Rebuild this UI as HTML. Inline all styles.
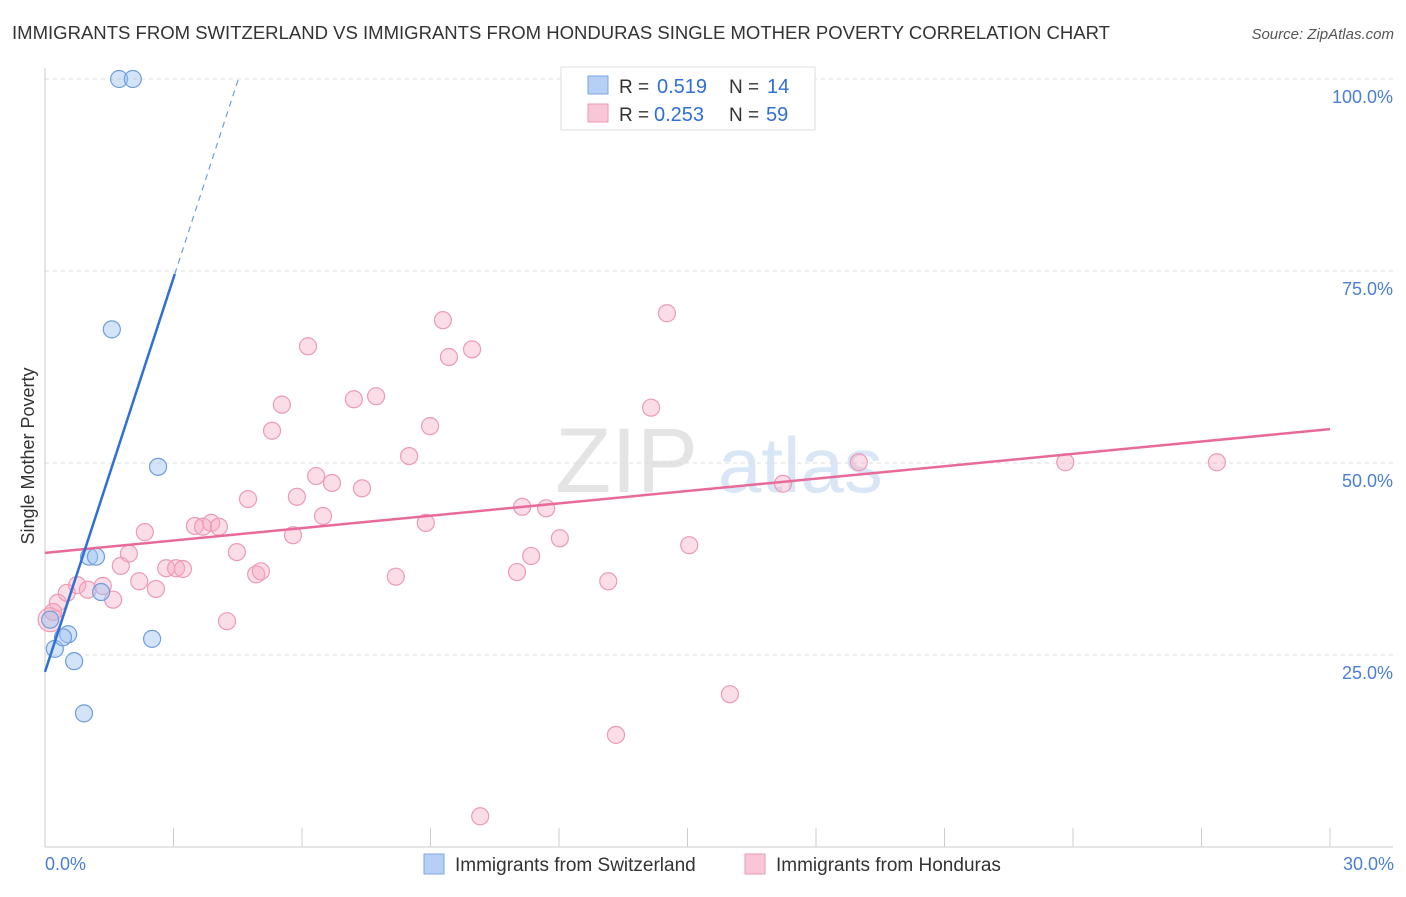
<!DOCTYPE html>
<html><head><meta charset="utf-8"><style>
body{margin:0;background:#fff;font-family:"Liberation Sans",sans-serif;}
svg text{font-family:"Liberation Sans",sans-serif;}
</style></head><body>
<svg id="chart" width="1406" height="892" xmlns="http://www.w3.org/2000/svg">
<text x="12" y="39" font-size="18" fill="#333" textLength="1098" lengthAdjust="spacingAndGlyphs">IMMIGRANTS FROM SWITZERLAND VS IMMIGRANTS FROM HONDURAS SINGLE MOTHER POVERTY CORRELATION CHART</text>
<text x="1394" y="39" font-size="15" fill="#555" text-anchor="end" font-style="italic">Source: ZipAtlas.com</text>
<text x="555" y="492" font-size="92" fill="#e4e4e4" font-family="Liberation Serif">ZIP</text>
<text x="718" y="492" font-size="78" fill="#d8e6f6">atlas</text>
<g id="grid"></g><g id="axes"></g><g id="marks"></g>
<text transform="translate(34,456) rotate(-90)" font-size="18" fill="#333" text-anchor="middle">Single Mother Poverty</text>
<text x="45" y="870" font-size="18" fill="#4a7fd4">0.0%</text>
<text x="1394" y="870" font-size="18" fill="#4a7fd4" text-anchor="end">30.0%</text>
<g>
<rect x="561" y="67" width="254" height="63" fill="#fff" stroke="#ddd"/>
<rect x="588" y="76" width="20" height="18" fill="#b6d0f5" stroke="#7aa6e0"/>
<rect x="588" y="104" width="20" height="18" fill="#f8c6d6" stroke="#ee9ab5"/>
<text x="619" y="93" font-size="19" fill="#333">R =</text>
<text x="657" y="93" font-size="20" fill="#2f6fd6">0.519</text>
<text x="729" y="93" font-size="19" fill="#333">N =</text>
<text x="767" y="93" font-size="20" fill="#2f6fd6">14</text>
<text x="619" y="121" font-size="19" fill="#333">R =</text>
<text x="654" y="121" font-size="20" fill="#2f6fd6">0.253</text>
<text x="729" y="121" font-size="19" fill="#333">N =</text>
<text x="766" y="121" font-size="20" fill="#2f6fd6">59</text>
</g>
<g>
<rect x="424" y="854" width="20" height="20" fill="#b6d0f5" stroke="#7aa6e0"/>
<text x="455" y="871" font-size="19" fill="#333">Immigrants from Switzerland</text>
<rect x="745" y="854" width="20" height="20" fill="#f8c6d6" stroke="#ee9ab5"/>
<text x="776" y="871" font-size="19" fill="#333">Immigrants from Honduras</text>
</g>
</svg>
<script>
const yTicks=[25,50,75,100];
const yTickLabels=["25.0%","50.0%","75.0%","100.0%"];
const xTicks=[0,3,6,9,12,15,18,21,24,27,30];
const blueX=[1.73,2.05,1.56,2.64,1.03,1.19,1.31,0.54,0.23,0.42,2.50,0.68,0.91,0.12];
const blueY=[100,100,67.4,49.5,37.8,37.8,33.2,27.7,25.8,27.3,27.1,24.2,17.4,29.6];
const pinkX=[0.12,0.30,0.51,0.75,1.00,1.35,1.59,1.77,1.96,2.20,2.33,2.59,2.83,3.06,3.22,3.50,3.69,3.88,4.06,4.25,4.48,4.74,4.93,5.04,5.30,5.53,5.79,5.88,6.14,6.33,6.49,6.70,7.21,7.40,7.73,8.19,8.50,8.89,8.99,9.29,9.43,9.97,10.16,11.02,11.14,11.35,11.70,12.02,13.15,13.33,14.15,14.52,15.04,15.99,17.23,19.00,23.82,27.36,0.19];
const pinkY=[29.6,31.8,33.1,34.1,33.5,34.0,32.2,36.6,38.2,34.6,41.0,33.6,36.3,36.3,36.2,41.8,41.7,42.2,41.7,29.4,38.4,45.3,35.5,35.9,54.2,57.6,40.6,45.6,65.2,48.3,43.1,47.4,58.3,46.7,58.7,35.2,50.9,42.2,54.8,68.6,63.8,64.8,4.0,35.8,44.3,37.9,44.1,40.2,34.6,14.6,57.2,69.5,39.3,19.9,47.3,50.1,50.1,50.1,30.6];
const blueTrend=[22.8,17.1]; // intercept, slope
const pinkTrend=[38.3,0.537];
const NS="http://www.w3.org/2000/svg";
const xs=v=>45+v*(1285/30);
const ys=v=>847-v*7.68;
function mk(parent,tag,attrs){const e=document.createElementNS(NS,tag);for(const k in attrs)e.setAttribute(k,attrs[k]);document.getElementById(parent).appendChild(e);return e;}
yTicks.forEach((t,i)=>{
 const l=mk('grid','line',{x1:45,x2:1393,y1:ys(t),y2:ys(t),stroke:'#ddd','stroke-dasharray':'4,4'});
 
 
 const tx=mk('grid','text',{x:1393,y:ys(t)+24,'font-size':18,fill:'#4a7fd4','text-anchor':'end'});
 tx.textContent=yTickLabels[i];
 
 
});
const ya=mk('axes','line',{x1:45,x2:45,y1:68,y2:847,stroke:'#ccc'});


const xa=mk('axes','line',{x1:45,x2:1393,y1:847,y2:847,stroke:'#ccc'});


xTicks.forEach(t=>{
 const l=mk('axes','line',{x1:xs(t),x2:xs(t),y1:828,y2:847,stroke:'#ccc'});
 
 
});
pinkX.forEach((x,i)=>{
 const c=mk('marks','circle',{cx:xs(x),cy:ys(pinkY[i]),r:i==0?12:8.5,fill:'rgba(244,170,196,0.4)',stroke:'#ec9ab6','stroke-width':1.2});
 
 
});
blueX.forEach((x,i)=>{
 const c=mk('marks','circle',{cx:xs(x),cy:ys(blueY[i]),r:8.5,fill:'rgba(160,196,240,0.45)',stroke:'#6f9ddc','stroke-width':1.2});
 
 
});
const pl=mk('marks','line',{x1:xs(0),y1:ys(pinkTrend[0]),x2:xs(30),y2:ys(pinkTrend[0]+pinkTrend[1]*30),stroke:'#e86a98','stroke-width':2.5});


const bEnd=3.03, bMax=(100-blueTrend[0])/blueTrend[1];
const bl=mk('marks','line',{x1:xs(0),y1:ys(blueTrend[0]),x2:xs(bEnd),y2:ys(blueTrend[0]+blueTrend[1]*bEnd),stroke:'#2f6fd6','stroke-width':2.5});


const bd=mk('marks','line',{x1:xs(bEnd),y1:ys(blueTrend[0]+blueTrend[1]*bEnd),x2:xs(bMax),y2:ys(100),stroke:'#6f9ddc','stroke-width':1.2,'stroke-dasharray':'6,5'});


</script>
</body></html>
